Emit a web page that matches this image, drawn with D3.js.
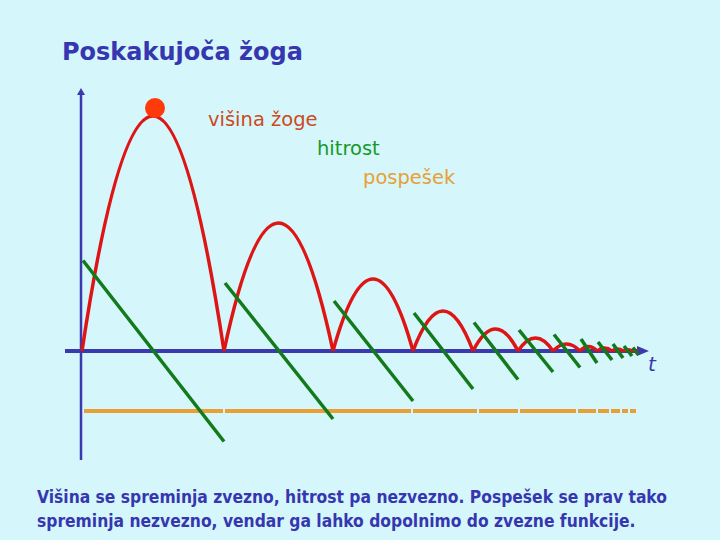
<!DOCTYPE html>
<html>
<head>
<meta charset="utf-8">
<script src="https://cdn.jsdelivr.net/npm/d3@7"></script>
<style>
  html, body { margin: 0; padding: 0; background: #d5f6fa; }
  svg { display: block; }
</style>
</head>
<body>
<svg width="720" height="540"></svg>
<script>
// podatki odčitani s slike (čas v s, višina / hitrost / pospešek v poljubnih enotah)
const pristanki = [0, 1.42, 2.51, 3.31, 3.91, 4.36, 4.71, 4.98, 5.15, 5.30, 5.41, 5.50, 5.56];
const visine = [2.35, 1.28, 0.72, 0.40, 0.22, 0.13, 0.07, 0.045, 0.03, 0.02, 0.012, 0.006];
const hitrosti = [0.905, 0.68, 0.50, 0.38, 0.285, 0.21, 0.165, 0.12, 0.09, 0.07, 0.05, 0.035];
const pospesek = -0.60;
const pospesekMeje = [0.01, 1.42, 3.30, 3.96, 4.37, 4.95, 5.15, 5.28, 5.39, 5.47, 5.55];
const oznake = ["višina žoge", "hitrost", "pospešek"];
const naslov = "Poskakujoča žoga";
const opis = [
  "Višina se spreminja zvezno, hitrost pa nezvezno. Pospešek se prav tako",
  "spreminja nezvezno, vendar ga lahko dopolnimo do zvezne funkcije."
];

const svg = d3.select("svg");

const x = d3.scaleLinear().domain([0, 5.67]).range([82, 649]);
const y = d3.scaleLinear().domain([-1.09, 2.63]).range([460, 88]);

// naslov
svg.append("text")
  .attr("x", 62).attr("y", 60)
  .attr("font-family", "DejaVu Sans")
  .attr("font-weight", "bold")
  .attr("font-size", 24)
  .attr("fill", "#3636b0")
  .text(naslov);

// osi
const os = "#3a3aae";
svg.append("line")
  .attr("x1", x(0) - 1).attr("x2", x(0) - 1)
  .attr("y1", y(-1.09)).attr("y2", y(2.63) + 4)
  .attr("stroke", os).attr("stroke-width", 2.5);
svg.append("path")
  .attr("d", d3.line()([[x(0) - 5, y(2.63) + 7], [x(0) - 1, y(2.63)], [x(0) + 3, y(2.63) + 7]]))
  .attr("fill", os);

svg.append("line")
  .attr("x1", 65).attr("x2", x(5.67) - 8)
  .attr("y1", y(0)).attr("y2", y(0))
  .attr("stroke", os).attr("stroke-width", 4);
svg.append("path")
  .attr("d", d3.line()([[x(5.67) - 12, y(0) - 5], [x(5.67), y(0)], [x(5.67) - 12, y(0) + 5]]))
  .attr("fill", os);

// pospešek (oranžni odseki)
const odseki = d3.pairs(pospesekMeje);
svg.selectAll("line.pospesek")
  .data(odseki)
  .enter()
  .append("line")
  .attr("class", "pospesek")
  .attr("x1", d => x(d[0]) + 1)
  .attr("x2", d => x(d[1]) - 1)
  .attr("y1", y(pospesek))
  .attr("y2", y(pospesek))
  .attr("stroke", "#e8a035")
  .attr("stroke-width", 4);

// višina (rdeči loki)
svg.selectAll("path.visina")
  .data(visine)
  .enter()
  .append("path")
  .attr("class", "visina")
  .attr("d", (d, i) => {
    const p = d3.path();
    const t0 = pristanki[i], t1 = pristanki[i + 1];
    p.moveTo(x(t0), y(0));
    p.quadraticCurveTo(x((t0 + t1) / 2), y(2 * d), x(t1), y(0));
    return p.toString();
  })
  .attr("fill", "none")
  .attr("stroke", "#dd1515")
  .attr("stroke-width", 3.5)
  .attr("stroke-linejoin", "round");

// hitrost (zelene premice)
svg.selectAll("line.hitrost")
  .data(hitrosti)
  .enter()
  .append("line")
  .attr("class", "hitrost")
  .attr("x1", (d, i) => x(pristanki[i]) + 1)
  .attr("y1", d => y(d))
  .attr("x2", (d, i) => x(pristanki[i + 1]))
  .attr("y2", d => y(-d))
  .attr("stroke", "#127a1a")
  .attr("stroke-width", 3.5);

// žoga
svg.append("circle")
  .attr("cx", x((pristanki[0] + pristanki[1]) / 2) + 2)
  .attr("cy", y(visine[0]) - 8)
  .attr("r", 10)
  .attr("fill", "#ff3a0a");

// legenda
const barve = ["#cc4a22", "#17992a", "#e8a035"];
const pozicije = [[208, 126], [317, 155], [363, 184]];
svg.selectAll("text.legenda")
  .data(oznake)
  .enter()
  .append("text")
  .attr("class", "legenda")
  .attr("x", (d, i) => pozicije[i][0])
  .attr("y", (d, i) => pozicije[i][1])
  .attr("font-family", "DejaVu Sans")
  .attr("font-size", 19.5)
  .attr("fill", (d, i) => barve[i])
  .text(d => d);

svg.append("text")
  .attr("x", 648).attr("y", 371)
  .attr("font-family", "DejaVu Sans")
  .attr("font-style", "italic")
  .attr("font-size", 20)
  .attr("fill", os)
  .text("t");

// opis spodaj
svg.selectAll("text.opis")
  .data(opis)
  .enter()
  .append("text")
  .attr("class", "opis")
  .attr("x", 37)
  .attr("y", (d, i) => 503 + i * 24)
  .attr("font-family", "DejaVu Sans Condensed, DejaVu Sans")
  .attr("font-weight", "bold")
  .attr("font-size", 17.3)
  .attr("fill", "#3636b0")
  .text(d => d);
</script>
</body>
</html>
